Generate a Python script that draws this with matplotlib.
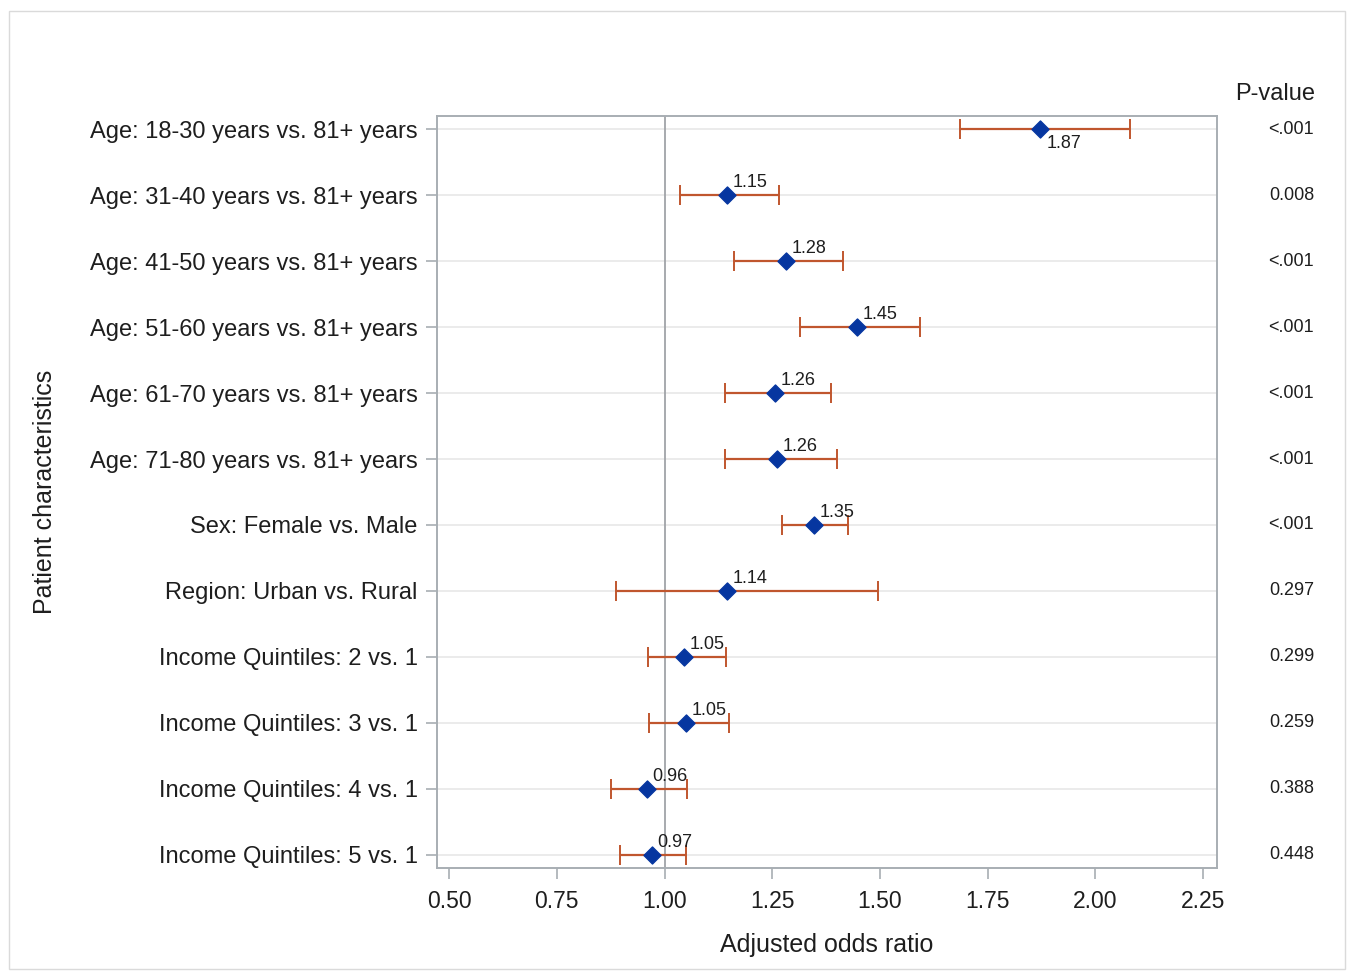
import numpy as np
import matplotlib
matplotlib.use("Agg")
import matplotlib.pyplot as plt
from matplotlib.patches import Rectangle

plt.rcParams["font.family"] = ["Liberation Sans", "DejaVu Sans"]

# ── Data ───────────────────────────────────────────────────────────────
labels = [
    "Age: 18-30 years vs. 81+ years",
    "Age: 31-40 years vs. 81+ years",
    "Age: 41-50 years vs. 81+ years",
    "Age: 51-60 years vs. 81+ years",
    "Age: 61-70 years vs. 81+ years",
    "Age: 71-80 years vs. 81+ years",
    "Sex: Female vs. Male",
    "Region: Urban vs. Rural",
    "Income Quintiles: 2 vs. 1",
    "Income Quintiles: 3 vs. 1",
    "Income Quintiles: 4 vs. 1",
    "Income Quintiles: 5 vs. 1",
]
odds_ratio = [1.871, 1.145, 1.282, 1.447, 1.256, 1.261, 1.347, 1.145, 1.045, 1.050, 0.959, 0.971]
ci_low     = [1.686, 1.036, 1.161, 1.314, 1.140, 1.140, 1.273, 0.887, 0.962, 0.964, 0.876, 0.897]
ci_high    = [2.080, 1.266, 1.414, 1.593, 1.386, 1.400, 1.426, 1.495, 1.143, 1.150, 1.052, 1.050]
or_text    = ["1.87", "1.15", "1.28", "1.45", "1.26", "1.26", "1.35", "1.14", "1.05", "1.05", "0.96", "0.97"]
p_values   = ["<.001", "0.008", "<.001", "<.001", "<.001", "<.001", "<.001",
              "0.297", "0.299", "0.259", "0.388", "0.448"]
x_ticks = [0.50, 0.75, 1.00, 1.25, 1.50, 1.75, 2.00, 2.25]

# ── Figure ─────────────────────────────────────────────────────────────
W, H = 1347, 972
fig = plt.figure(figsize=(W / 100, H / 100), dpi=100)
fig.patches.append(Rectangle((9 / W, 3 / H), 1336 / W, 958 / H, transform=fig.transFigure,
                             fill=False, edgecolor="#DADADA", linewidth=1))

ax = fig.add_axes([437 / W, 1 - 868 / H, 780 / W, 752 / H])
y = np.arange(len(labels))
frame_col = "#A8AEB3"
txt_col = "#1E1E1E"

for yi in y:
    ax.axhline(yi, color="#E8E8E8", linewidth=1.2, zorder=0)
ax.axvline(1.0, color="#A0A4A8", linewidth=1.3, zorder=1)

or_arr = np.array(odds_ratio)
err = [or_arr - np.array(ci_low), np.array(ci_high) - or_arr]
ax.errorbar(or_arr, y, xerr=err, fmt="none", ecolor="#C0562E", elinewidth=1.6,
            capsize=7, capthick=1.4, zorder=2)
ax.scatter(or_arr, y, marker="D", s=75, color="#0636A0", zorder=3)

for i, (v, t) in enumerate(zip(odds_ratio, or_text)):
    if i == 0:
        ax.annotate(t, (v, i), xytext=(5, -4), textcoords="offset points",
                    ha="left", va="top", fontsize=13, color=txt_col)
    else:
        ax.annotate(t, (v, i), xytext=(4, 3), textcoords="offset points",
                    ha="left", va="bottom", fontsize=13, color=txt_col)

ax.set_xlim(0.472, 2.282)
ax.set_ylim(len(labels) - 1 + 0.2, -0.2)
ax.set_xticks(x_ticks)
ax.set_xticklabels([f"{v:.2f}" for v in x_ticks], fontsize=16.5, color=txt_col)
ax.set_yticks(y)
ax.set_yticklabels(labels, fontsize=17, color=txt_col)
ax.tick_params(axis="both", length=8, width=1.2, color=frame_col, direction="out")
ax.tick_params(axis="x", pad=8)
ax.tick_params(axis="y", pad=6)
for s in ax.spines.values():
    s.set_color(frame_col)
    s.set_linewidth(1.4)

ax.set_xlabel("Adjusted odds ratio", fontsize=18, color=txt_col, labelpad=14)
fig.text(45 / W, 1 - 492 / H, "Patient characteristics", rotation=90, fontsize=18,
         color=txt_col, ha="center", va="center")

# P-value column
fig.text(1315 / W, 1 - 94 / H, "P-value", fontsize=17, color=txt_col, ha="right", va="center")
for i, p in enumerate(p_values):
    xd, yd = ax.transData.transform((0, i))
    fig.text(1314 / W, yd / H, p, fontsize=13, color=txt_col, ha="right", va="center")

fig.savefig("out.png", dpi=100, facecolor="white")
